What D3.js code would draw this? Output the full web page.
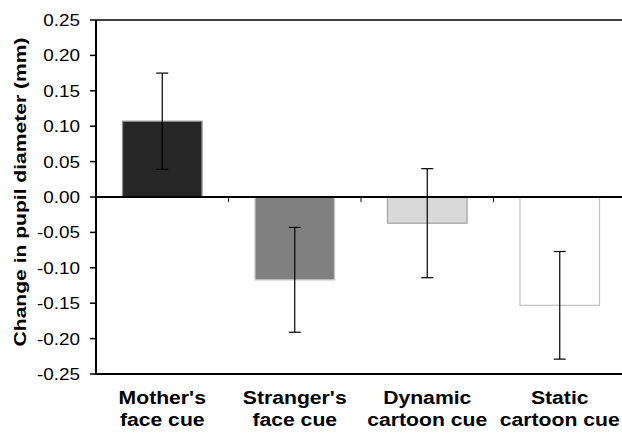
<!DOCTYPE html>
<html>
<head>
<meta charset="utf-8">
<script src="https://cdn.jsdelivr.net/npm/d3@7"></script>
<style>
    body { margin: 0; background: #fff; }
    svg { display: block; }
    text { font-family: "Liberation Sans", Arial, sans-serif; fill: #000; }
</style>
</head>
<body>
<svg id="chart"></svg>
<script>
// Chart data
const categories = ["Mother's|face cue", "Stranger's|face cue", "Dynamic|cartoon cue", "Static|cartoon cue"];
const means = [0.107, -0.117, -0.037, -0.153];
const errors = [0.068, 0.074, 0.077, 0.076];
const yTicks = [0.25, 0.20, 0.15, 0.10, 0.05, 0.00, -0.05, -0.10, -0.15, -0.20, -0.25];
const fills = ['#262626', '#808080', '#d9d9d9', '#ffffff'];
const strokes = ['#8c8c8c', '#c4c4c4', '#a6a6a6', '#c6c6c6'];

const W = 622, H = 433;
const svg = d3.select('#chart').attr('width', W).attr('height', H);

const plotLeft = 96, plotTop = 20, plotBottom = 374, plotRight = 626;

const x = d3.scaleBand()
    .domain(categories)
    .range([plotLeft, plotRight])
    .paddingInner(0.4)
    .paddingOuter(0.2);

const y = d3.scaleLinear()
    .domain([-0.25, 0.25])
    .range([plotBottom, plotTop]);

const data = categories.map((c, i) => ({cat: c, mean: means[i], err: errors[i], i: i}));

// bars
svg.selectAll('rect.bar')
    .data(data)
    .enter().append('rect')
    .attr('class', 'bar')
    .attr('x', d => x(d.cat))
    .attr('width', x.bandwidth())
    .attr('y', d => y(Math.max(0, d.mean)))
    .attr('height', d => Math.abs(y(d.mean) - y(0)))
    .attr('fill', d => fills[d.i])
    .attr('stroke', d => strokes[d.i])
    .attr('stroke-width', 1.3);

// frame lines
svg.append('line').attr('x1', plotLeft).attr('x2', W).attr('y1', plotTop).attr('y2', plotTop)
    .attr('stroke', '#000').attr('stroke-width', 1.5);
svg.append('line').attr('x1', plotLeft).attr('x2', W).attr('y1', plotBottom).attr('y2', plotBottom)
    .attr('stroke', '#000').attr('stroke-width', 2);
svg.append('line').attr('x1', plotLeft).attr('x2', plotLeft).attr('y1', plotTop).attr('y2', plotBottom + 1)
    .attr('stroke', '#000').attr('stroke-width', 2);
svg.append('line').attr('x1', plotLeft).attr('x2', W).attr('y1', y(0)).attr('y2', y(0))
    .attr('stroke', '#000').attr('stroke-width', 2);

// category ticks on zero line (between bands)
const step = x.step();
svg.selectAll('line.ctick')
    .data(categories.slice(1))
    .enter().append('line')
    .attr('x1', d => x(d) - step * 0.2)
    .attr('x2', d => x(d) - step * 0.2)
    .attr('y1', y(0))
    .attr('y2', y(0) + 5)
    .attr('stroke', '#000').attr('stroke-width', 1);

// y ticks and labels
const yAxis = svg.append('g');
yAxis.selectAll('line')
    .data(yTicks)
    .enter().append('line')
    .attr('x1', plotLeft - 6).attr('x2', plotLeft)
    .attr('y1', d => y(d)).attr('y2', d => y(d))
    .attr('stroke', '#000').attr('stroke-width', 1.5);
yAxis.selectAll('text')
    .data(yTicks)
    .enter().append('text')
    .attr('transform', d => `translate(${plotLeft - 16},${y(d) + 6}) scale(1.16,1)`)
    .attr('text-anchor', 'end')
    .style('font-size', '16.3px')
    .text(d => d.toFixed(2));

// error bars
const eb = svg.append('g').attr('stroke', '#000').attr('stroke-width', 1.2);
data.forEach(d => {
    const cx = x(d.cat) + x.bandwidth() / 2;
    eb.append('line').attr('x1', cx).attr('x2', cx)
        .attr('y1', y(d.mean + d.err)).attr('y2', y(d.mean - d.err));
    [d.mean + d.err, d.mean - d.err].forEach(v => {
        eb.append('line').attr('x1', cx - 6).attr('x2', cx + 6)
            .attr('y1', y(v)).attr('y2', y(v));
    });
});

// category labels
data.forEach(d => {
    const cx = x(d.cat) + x.bandwidth() / 2;
    d.cat.split('|').forEach((ln, k) => {
        svg.append('text')
            .attr('transform', `translate(${cx},${404 + k * 22}) scale(1.21,1)`)
            .attr('text-anchor', 'middle')
            .style('font-size', '17.5px')
            .style('font-weight', 'bold')
            .text(ln);
    });
});

// y axis title
svg.append('text')
    .attr('transform', `translate(26,192) rotate(-90) scale(1.24,1)`)
    .attr('text-anchor', 'middle')
    .style('font-size', '17px')
    .style('font-weight', 'bold')
    .text('Change in pupil diameter (mm)');
</script>
</body>
</html>
